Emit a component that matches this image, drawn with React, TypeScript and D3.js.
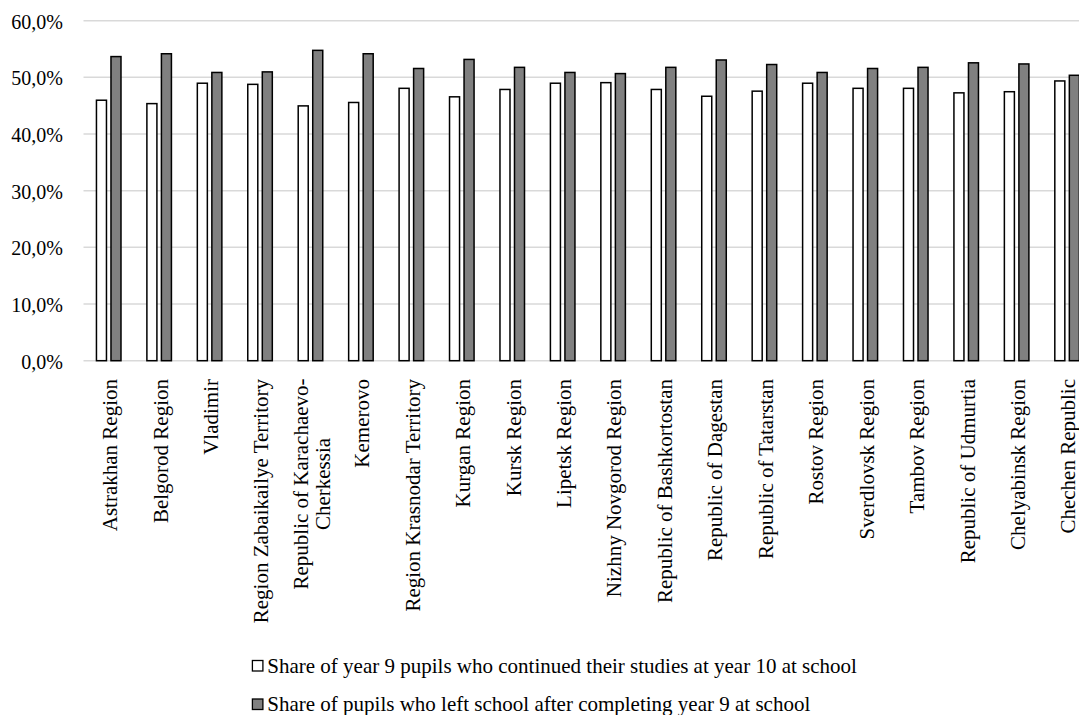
import React from "react";
import * as d3 from "d3";

const categories: string[] = [
  "Astrakhan Region",
  "Belgorod Region",
  "Vladimir",
  "Region Zabaikailye Territory",
  "Republic of Karachaevo-\nCherkessia",
  "Kemerovo",
  "Region Krasnodar Territory",
  "Kurgan Region",
  "Kursk Region",
  "Lipetsk Region",
  "Nizhny Novgorod Region",
  "Republic of Bashkortostan",
  "Republic of Dagestan",
  "Republic of Tatarstan",
  "Rostov Region",
  "Sverdlovsk Region",
  "Tambov Region",
  "Republic of Udmurtia",
  "Chelyabinsk Region",
  "Chechen Republic",
];

const continued: number[] = [
  46.1, 45.5, 49.1, 48.9, 45.1, 45.7, 48.2, 46.7, 48.0, 49.1,
  49.2, 48.0, 46.8, 47.7, 49.1, 48.2, 48.2, 47.4, 47.6, 49.5,
];

const left: number[] = [
  53.8, 54.3, 51.0, 51.1, 54.9, 54.3, 51.7, 53.3, 51.9, 51.0,
  50.8, 51.9, 53.2, 52.4, 51.0, 51.7, 51.9, 52.7, 52.5, 50.5,
];

const seriesNames: string[] = [
  "Share of year 9 pupils who continued their studies at year 10 at school",
  "Share of pupils who left school after completing year 9 at school",
];
const seriesColors: string[] = ["#ffffff", "#808080"];

const yTicks: number[] = [0, 10, 20, 30, 40, 50, 60];

const W = 1079;
const H = 715;
const FONT = '"Liberation Serif", "Times New Roman", serif';

export default function App() {
  const plotLeft = 83.5;
  const step = 50.44;
  const x = d3
    .scaleBand<string>()
    .domain(categories)
    .range([plotLeft, plotLeft + step * categories.length])
    .paddingInner(0)
    .paddingOuter(0);
  const groupPad = 12.2;
  const xs = d3
    .scaleBand<string>()
    .domain(["0", "1"])
    .range([groupPad, x.bandwidth() - groupPad])
    .paddingInner(0.207)
    .paddingOuter(0);
  const y = d3.scaleLinear().domain([0, 60]).range([360.7, 20.7]);
  const fmt = (v: number) => d3.format(".1f")(v).replace(".", ",") + "%";
  const series = [continued, left];
  const sw = 1.5;
  const ts = { fontFamily: FONT };

  return (
    <svg
      width={W}
      height={H}
      style={{ position: "absolute", left: 0, top: 0, background: "#fff", fontFamily: FONT }}
    >
      <rect x={0} y={0} width={W} height={H} fill="#fff" />
      {yTicks.map((t) => (
        <g key={t}>
          <line
            x1={plotLeft}
            x2={W}
            y1={y(t)}
            y2={y(t)}
            stroke="#d9d9d9"
            strokeWidth={1.5}
          />
          <text
            x={63}
            y={y(t) + 1}
            dy="0.35em"
            textAnchor="end"
            fontSize={20}
            fill="#000"
            style={ts}
          >
            {fmt(t)}
          </text>
        </g>
      ))}
      {categories.map((c, i) => (
        <g key={c} transform={`translate(${x(c)},0)`}>
          {series.map((s, j) => {
            const bx = xs(String(j))!;
            const bw = xs.bandwidth();
            return (
              <rect
                key={j}
                x={bx + sw / 2}
                y={y(s[i]) + sw / 2}
                width={bw - sw}
                height={y(0) - y(s[i]) - sw / 2}
                fill={seriesColors[j]}
                stroke="#000"
                strokeWidth={sw}
              />
            );
          })}
        </g>
      ))}
      {categories.map((c) => {
        const lines = c.split("\n");
        const cx = x(c)! + x.bandwidth() / 2 + 1;
        const lh = 22;
        return (
          <g key={c} transform={`translate(${cx},379) rotate(-90)`}>
            {lines.map((ln, k) => (
              <text
                key={k}
                x={lines.length > 1 ? -105 : 0}
                y={(k - (lines.length - 1) / 2) * lh}
                dy="0.35em"
                textAnchor={lines.length > 1 ? "middle" : "end"}
                fontSize={21}
                fill="#000"
                style={ts}
              >
                {ln}
              </text>
            ))}
          </g>
        );
      })}
      {seriesNames.map((n, j) => {
        const base = 672.5 + j * 38.5;
        return (
          <g key={n}>
            <rect
              x={252.4}
              y={base - 12}
              width={10.5}
              height={10.5}
              fill={seriesColors[j]}
              stroke="#000"
              strokeWidth={1.3}
            />
            <text x={267.3} y={base} fontSize={21} fill="#000" style={ts}>
              {n}
            </text>
          </g>
        );
      })}
    </svg>
  );
}
